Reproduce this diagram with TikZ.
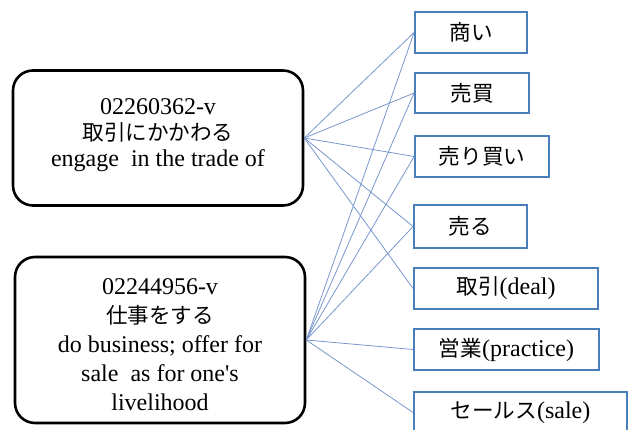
\documentclass[tikz,border=0pt]{standalone}
\usepackage{fontspec}
\setmainfont{Liberation Serif}
\newfontfamily\straight{Liberation Serif}[Ligatures=TeXOff]
\newfontfamily\jp[Scale=0.9]{Noto Sans CJK JP}
\definecolor{boxblue}{RGB}{74,126,187}
\definecolor{lineblue}{RGB}{120,150,205}
\begin{document}
\begin{tikzpicture}[x=1pt,y=-1pt,
  sense/.style={draw=black, line width=2.6pt, rounded corners=20pt, inner sep=0pt},
  sensetext/.style={align=center, inner sep=0pt},
  word/.style={draw=boxblue, line width=1.8pt, fill=white, inner sep=0pt, font=\fontsize{24}{26}\selectfont},
  link/.style={draw=lineblue, line width=0.8pt}]
\useasboundingbox (0,0) rectangle (633,430);
\begin{scope}
\clip (0,0) rectangle (633,430);
\node[sense, minimum width=290pt, minimum height=135pt] (s1) at (158,138) {};
\node[sensetext, font=\fontsize{24}{26}\selectfont] (s1t) at (158,135)
  {02260362-v\\{\jp 取引にかかわる}\\engage\ \ in the trade of};
\node[sense, minimum width=290pt, minimum height=166pt] (s2) at (160,340) {};
\node[sensetext, font=\fontsize{24}{29}\selectfont] (s2t) at (160,345)
  {02244956-v\\{\jp 仕事をする}\\do business; offer for\\sale\ \ as for one{\straight '}s\\livelihood};
\node[word, minimum width=112pt, minimum height=41pt] (w1) at (471,32.5) {\jp 商い};
\node[word, minimum width=114pt, minimum height=40pt] (w2) at (472,93) {\jp 売買};
\node[word, minimum width=134pt, minimum height=41pt] (w3) at (482,156.5) {\jp 売り買い};
\node[word, minimum width=113pt, minimum height=43pt] (w4) at (470.5,226.5) {\jp 売る};
\node[word, minimum width=184pt, minimum height=41pt] (w5) at (506,288.5) {{\jp 取引}(deal)};
\node[word, minimum width=185pt, minimum height=41pt] (w6) at (506.5,349.5) {{\jp 営業}(practice)};
\node[word, minimum width=213pt, minimum height=41pt] (w7) at (520.5,412.5) {{\jp セールス}(sale)};
\foreach \w in {w1,w2,w3,w4,w5} \draw[link] (s1.east) -- (\w.west);
\foreach \w in {w1,w2,w3,w4,w6,w7} \draw[link] (s2.east) -- (\w.west);
\end{scope}
\end{tikzpicture}
\end{document}
